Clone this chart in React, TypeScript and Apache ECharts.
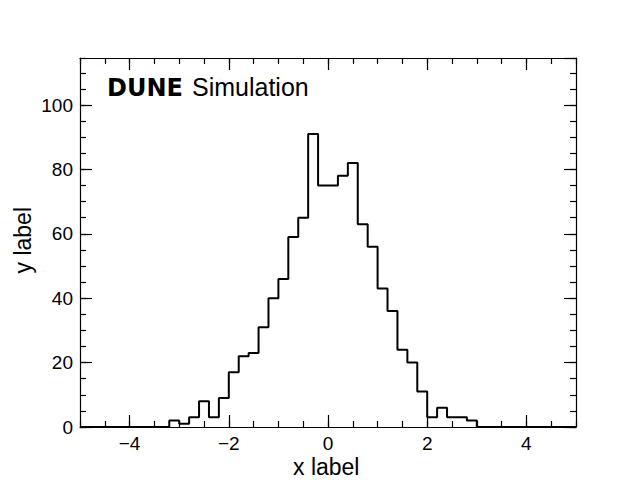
import React, { useEffect, useRef } from "react";
import * as echarts from "echarts";

// Histogram: 50 bins of width 0.2 from -5 to 5
const binStart = -5;
const binWidth = 0.2;
const counts = [
  0, 0, 0, 0, 0, 0, 0, 0, 0, 2,
  1, 3, 8, 3, 9, 17, 22, 23, 31, 40,
  46, 59, 65, 91, 75, 75, 78, 82, 63, 56,
  43, 36, 24, 20, 11, 3, 6, 3, 3, 2,
  0, 0, 0, 0, 0, 0, 0, 0, 0, 0,
];
const xMajorTicks = [-4, -2, 0, 2, 4];
const xRange = [-5, 5];
const yRange = [0, 114.6];
const yMajorInterval = 20;
const yMinorInterval = 5;
const xMinorInterval = 0.5;
const titleBold = "DUNE";
const titleRegular = "Simulation";
const xName = "x label";
const yName = "y label";

const fmt = (v: number) => (v < 0 ? "\u2212" + Math.abs(v) : String(v));

export default function App() {
  const ref = useRef<HTMLDivElement>(null);
  useEffect(() => {
    if (!ref.current) return;
    document.body.style.margin = "0";
    document.body.style.overflow = "hidden";
    const chart = echarts.init(ref.current, null, { renderer: "svg" });
    const data: number[][] = counts.map((c, i) => [binStart + i * binWidth, c]);
    data.push([binStart + counts.length * binWidth, counts[counts.length - 1]]);

    const lineStyle = { color: "#000", width: 1.2 };
    const font = "Liberation Sans, Arial, sans-serif";
    const axisLineOn = { show: true, onZero: false, lineStyle };
    const axisLineOff = { show: false, onZero: false };
    const baseX = {
      type: "value" as const,
      min: xRange[0],
      max: xRange[1],
      splitLine: { show: false },
    };
    const baseY = {
      type: "value" as const,
      min: yRange[0],
      max: yRange[1],
      splitLine: { show: false },
    };

    chart.setOption({
      animation: false,
      grid: {
        left: 80,
        right: 64,
        top: 58,
        bottom: 53,
        containLabel: false,
        outerBoundsMode: "none",
      },
      xAxis: [
        {
          ...baseX,
          position: "bottom",
          interval: xMinorInterval,
          axisLine: axisLineOn,
          axisTick: { show: true, inside: true, length: 6, lineStyle },
          axisLabel: { show: false },
        },
        {
          ...baseX,
          position: "bottom",
          axisLine: axisLineOff,
          axisTick: { show: true, inside: true, length: 12, lineStyle, customValues: xMajorTicks },
          axisLabel: {
            show: true,
            customValues: xMajorTicks,
            formatter: fmt,
            fontFamily: font,
            fontSize: 19,
            color: "#000",
            margin: 7,
          },
        },
        {
          ...baseX,
          position: "top",
          interval: xMinorInterval,
          axisLine: axisLineOn,
          axisTick: { show: true, inside: true, length: 6, lineStyle },
          axisLabel: { show: false },
        },
        {
          ...baseX,
          position: "top",
          axisLine: axisLineOff,
          axisTick: { show: true, inside: true, length: 12, lineStyle, customValues: xMajorTicks },
          axisLabel: { show: false },
        },
      ],
      yAxis: [
        {
          ...baseY,
          position: "left",
          interval: yMinorInterval,
          axisLine: axisLineOn,
          axisTick: { show: true, inside: true, length: 6, lineStyle },
          axisLabel: { show: false },
        },
        {
          ...baseY,
          position: "left",
          interval: yMajorInterval,
          axisLine: axisLineOff,
          axisTick: { show: true, inside: true, length: 12, lineStyle },
          axisLabel: {
            show: true,
            showMaxLabel: false,
            formatter: fmt,
            fontFamily: font,
            fontSize: 19,
            color: "#000",
            margin: 7,
          },
        },
        {
          ...baseY,
          position: "right",
          interval: yMinorInterval,
          axisLine: axisLineOn,
          axisTick: { show: true, inside: true, length: 6, lineStyle },
          axisLabel: { show: false },
        },
        {
          ...baseY,
          position: "right",
          interval: yMajorInterval,
          axisLine: axisLineOff,
          axisTick: { show: true, inside: true, length: 12, lineStyle },
          axisLabel: { show: false },
        },
      ],
      graphic: [
        {
          type: "text",
          left: 107,
          top: 76,
          style: {
            text: titleBold,
            font: "bold 24px 'DejaVu Sans', sans-serif",
            fill: "#000",
          },
        },
        {
          type: "text",
          left: 192,
          top: 74,
          style: {
            text: titleRegular,
            font: "25px 'Liberation Sans', Arial, sans-serif",
            fill: "#000",
          },
        },
        {
          type: "text",
          left: 293,
          top: 455,
          style: {
            text: xName,
            font: "23px 'Liberation Sans', Arial, sans-serif",
            fill: "#000",
          },
        },
        {
          type: "text",
          left: 11,
          top: 207,
          rotation: Math.PI / 2,
          style: {
            text: yName,
            font: "23px 'Liberation Sans', Arial, sans-serif",
            fill: "#000",
          },
        },
      ],
      series: [
        {
          type: "line",
          xAxisIndex: 1,
          yAxisIndex: 1,
          step: "end",
          data,
          symbol: "none",
          clip: false,
          lineStyle: { color: "#000", width: 2 },
          z: 1,
        },
      ],
    });
    return () => chart.dispose();
  }, []);
  return (
    <div
      ref={ref}
      style={{ position: "absolute", left: 0, top: 0, width: 640, height: 480 }}
    />
  );
}
